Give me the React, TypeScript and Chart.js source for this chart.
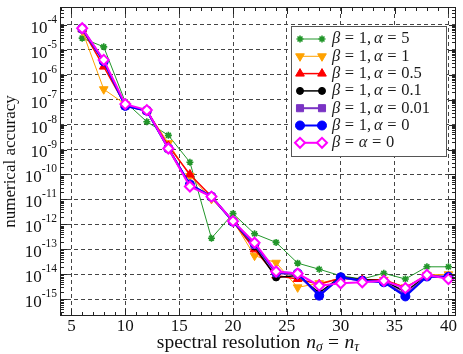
import React, { useEffect, useRef } from 'react';
import { Chart, registerables } from 'chart.js';
import { drawPoint } from 'chart.js/helpers';

Chart.register(...registerables);

// ---------- data ----------
const resolution = [6, 8, 10, 12, 14, 16, 18, 20, 22, 24, 26, 28, 30, 32, 34, 36, 38, 40];

const seriesLabels = [
  'β = 1, α = 5',
  'β = 1, α = 1',
  'β = 1, α = 0.5',
  'β = 1, α = 0.1',
  'β = 1, α = 0.01',
  'β = 1, α = 0',
  'β = α = 0',
];

const accAlpha5 = [2.9e-5, 1.3e-5, 8e-8, 1.3e-8, 3.7e-9, 3.1e-10, 2.8e-13, 2.7e-12, 4.2e-13, 1.9e-13, 2.8e-14, 1.6e-14, 8.7e-15, 6.5e-15, 1.1e-14, 6.5e-15, 2e-14, 2e-14];
const accAlpha1 = [5.8e-5, 2.6e-7, 6.5e-8, 3.6e-8, 1.8e-9, 8.7e-11, 1.05e-11, 1.4e-12, 5.6e-14, 2.9e-14, 3e-15, 4.4e-15, 7e-15, 6e-15, 6e-15, 3e-15, 9.5e-15, 1e-14];
const accAlpha05 = [6.5e-5, 2.1e-6, 6e-8, 3.6e-8, 1.4e-9, 1e-10, 1.3e-11, 1.3e-12, 1e-13, 9e-15, 6.5e-15, 4e-15, 7e-15, 6e-15, 6e-15, 3e-15, 9e-15, 8e-15];
const accAlpha01 = [7e-5, 3.3e-6, 5.8e-8, 3.6e-8, 1.1e-9, 3.8e-11, 1.3e-11, 1.3e-12, 1.3e-13, 7.5e-15, 9e-15, 1.8e-15, 8e-15, 6e-15, 5.5e-15, 2e-15, 9e-15, 7e-15];
const accAlpha001 = [7e-5, 3.5e-6, 5.6e-8, 3.6e-8, 1.1e-9, 3.8e-11, 1.3e-11, 1.3e-12, 1.5e-13, 1.1e-14, 1e-14, 1.4e-15, 7.5e-15, 5.5e-15, 5e-15, 1.5e-15, 8.5e-15, 7.5e-15];
const accAlpha0 = [7e-5, 3.4e-6, 5.6e-8, 3.6e-8, 1.1e-9, 4e-11, 1.3e-11, 1.3e-12, 1.7e-13, 1.2e-14, 1.1e-14, 1.4e-15, 7.6e-15, 5.5e-15, 4.8e-15, 1.3e-15, 8.2e-15, 8e-15];
const accBetaAlpha0 = [7.2e-5, 3.9e-6, 6.6e-8, 3.8e-8, 1.1e-9, 3.3e-11, 1.3e-11, 1.35e-12, 1.85e-13, 1.3e-14, 1.07e-14, 3.5e-15, 4.4e-15, 4.8e-15, 5.5e-15, 2.8e-15, 9.5e-15, 6.5e-15];

const seriesValues = [accAlpha5, accAlpha1, accAlpha05, accAlpha01, accAlpha001, accAlpha0, accBetaAlpha0];

const yDecades = [-15, -14, -13, -12, -11, -10, -9, -8, -7, -6, -5, -4];
const xTickValues = [5, 10, 15, 20, 25, 30, 35, 40];

const yTitle = 'numerical accuracy';
const xTitleText = 'spectral resolution';

// ---------- styles ----------
const SERIF = '"Liberation Serif", "DejaVu Serif", serif';

const seriesStyles = [
  { color: '#22962a', fill: '#5cc75c', point: 'star', rot: 0, r: 3.5, lw: 1, pbw: 1.6 },
  { color: '#ffa200', fill: '#ffa200', point: 'triangle', rot: 180, r: 5, lw: 1, pbw: 1 },
  { color: '#ff0000', fill: '#ff0000', point: 'triangle', rot: 0, r: 5, lw: 1.5, pbw: 1 },
  { color: '#000000', fill: '#000000', point: 'circle', rot: 0, r: 3.5, lw: 1.5, pbw: 1 },
  { color: '#7a33c4', fill: '#7a33c4', point: 'rect', rot: 0, r: 5, lw: 2, pbw: 1 },
  { color: '#0000ff', fill: '#0000ff', point: 'circle', rot: 0, r: 4.5, lw: 2, pbw: 1 },
  { color: '#ff00ff', fill: '#ffffff', point: 'rectRot', rot: 0, r: 5, lw: 2, pbw: 2 },
];

type Tok = { t: string; it?: boolean; pre?: number; post?: number; sub?: boolean };

function mathTokens(label: string): Tok[] {
  const toks: Tok[] = [];
  for (const ch of label) {
    if (ch === ' ') continue;
    if (ch === '=') toks.push({ t: '=', pre: 0.28, post: 0.28 });
    else if (ch === ',') toks.push({ t: ',', post: 0.17 });
    else toks.push({ t: ch, it: /[α-ω]/.test(ch) });
  }
  return toks;
}

function tokWidth(ctx: CanvasRenderingContext2D, toks: Tok[], size: number) {
  let w = 0;
  for (const tk of toks) {
    const s = tk.sub ? size * 0.7 : size;
    ctx.font = `${tk.it ? 'italic ' : ''}${s}px ${SERIF}`;
    w += (tk.pre || 0) * size + ctx.measureText(tk.t).width + (tk.post || 0) * size;
  }
  return w;
}

function drawTokens(ctx: CanvasRenderingContext2D, toks: Tok[], x: number, y: number, size: number) {
  let cx = x;
  for (const tk of toks) {
    const s = tk.sub ? size * 0.7 : size;
    cx += (tk.pre || 0) * size;
    ctx.font = `${tk.it ? 'italic ' : ''}${s}px ${SERIF}`;
    ctx.fillText(tk.t, cx, tk.sub ? y + size * 0.22 : y);
    cx += ctx.measureText(tk.t).width + (tk.post || 0) * size;
  }
  return cx;
}

const decorPlugin = {
  id: 'decor',
  afterDraw(chart: any) {
    const ctx: CanvasRenderingContext2D = chart.ctx;
    const a = chart.chartArea;
    const xs = chart.scales.x;
    const ys = chart.scales.y;
    ctx.save();
    ctx.setLineDash([]);
    ctx.strokeStyle = '#222';
    ctx.lineWidth = 1;
    const line = (x1: number, y1: number, x2: number, y2: number) => {
      ctx.beginPath();
      ctx.moveTo(x1, y1);
      ctx.lineTo(x2, y2);
      ctx.stroke();
    };
    // frame
    ctx.strokeRect(a.left + 0.5, a.top + 0.5, a.right - a.left - 1, a.bottom - a.top - 1);
    // x ticks (inward, bottom & top)
    for (let v = Math.ceil(xs.min); v <= xs.max; v++) {
      const px = Math.round(xs.getPixelForValue(v)) + 0.5;
      const len = v % 5 === 0 ? 7 : 4;
      line(px, a.bottom, px, a.bottom - len);
      line(px, a.top, px, a.top + len);
    }
    // y ticks (inward, left & right)
    for (let d = -16; d <= -3; d++) {
      for (let k = 1; k <= 9; k++) {
        const v = k * Math.pow(10, d);
        if (v < ys.min || v > ys.max) continue;
        const py = Math.round(ys.getPixelForValue(v)) + 0.5;
        const len = k === 1 ? 7 : 4;
        line(a.left, py, a.left + len, py);
        line(a.right, py, a.right - len, py);
      }
    }
    // y tick labels
    ctx.fillStyle = '#111';
    ctx.textBaseline = 'middle';
    ctx.textAlign = 'left';
    for (const d of yDecades) {
      const py = ys.getPixelForValue(Math.pow(10, d));
      const exp = '-' + String(-d);
      ctx.font = `11.5px ${SERIF}`;
      const we = ctx.measureText(exp).width;
      ctx.font = `17px ${SERIF}`;
      const wb = ctx.measureText('10').width;
      const right = 57;
      ctx.fillText('10', right - we - wb, py + 3.5);
      ctx.font = `11.5px ${SERIF}`;
      ctx.fillText(exp, right - we, py - 5);
    }
    // x tick labels
    ctx.textAlign = 'center';
    ctx.font = `17px ${SERIF}`;
    for (const v of xTickValues) {
      ctx.fillText(String(v), xs.getPixelForValue(v), 327);
    }
    // y title
    ctx.save();
    ctx.translate(11, (a.top + a.bottom) / 2);
    ctx.rotate(-Math.PI / 2);
    ctx.font = `17px ${SERIF}`;
    ctx.textAlign = 'center';
    ctx.fillText(yTitle, 0, 0);
    ctx.restore();
    // x title
    const xsize = 19.5;
    const xt: Tok[] = [
      { t: xTitleText, post: 0.3 },
      { t: 'n', it: true },
      { t: 'σ', it: true, sub: true },
      { t: '=', pre: 0.28, post: 0.28 },
      { t: 'n', it: true },
      { t: 'τ', it: true, sub: true },
    ];
    ctx.textAlign = 'left';
    const tw = tokWidth(ctx, xt, xsize);
    drawTokens(ctx, xt, (a.left + a.right) / 2 - tw / 2, 343, xsize);

    // legend
    const lx = 291.5, ly = 26.5, lw = 155, lh = 130;
    ctx.fillStyle = '#ffffff';
    ctx.fillRect(lx, ly, lw, lh);
    ctx.strokeStyle = '#555';
    ctx.lineWidth = 1;
    ctx.strokeRect(lx, ly, lw, lh);
    chart.data.datasets.forEach((ds: any, i: number) => {
      const st = seriesStyles[i];
      const y = 39 + i * 17.3;
      ctx.strokeStyle = st.color;
      ctx.lineWidth = st.lw;
      line(300, y, 322, y);
      ctx.fillStyle = st.fill;
      ctx.strokeStyle = st.color;
      ctx.lineWidth = st.pbw;
      const opts = { pointStyle: st.point, rotation: st.rot, radius: st.r, borderWidth: st.pbw };
      drawPoint(ctx, opts as any, 300, y);
      drawPoint(ctx, opts as any, 322, y);
      ctx.fillStyle = '#1a1a1a';
      ctx.textBaseline = 'middle';
      drawTokens(ctx, mathTokens(ds.label), 332, y, 16.5);
    });
    ctx.restore();
  },
};

export default function App() {
  const ref = useRef<HTMLCanvasElement | null>(null);
  useEffect(() => {
    if (!ref.current) return;
    const n = seriesValues.length;
    const chart = new Chart(ref.current, {
      type: 'line',
      data: {
        datasets: seriesValues.map((vals, i) => {
          const st = seriesStyles[i];
          return {
            label: seriesLabels[i],
            data: resolution.map((x, j) => ({ x, y: vals[j] })),
            borderColor: st.color,
            backgroundColor: st.fill,
            borderWidth: st.lw,
            pointStyle: st.point as any,
            pointRotation: st.rot,
            pointRadius: st.r,
            pointBorderWidth: st.pbw,
            pointBorderColor: st.color,
            pointBackgroundColor: st.fill,
            tension: 0,
            fill: false,
            order: n - 1 - i,
          };
        }),
      },
      options: {
        animation: false,
        responsive: false,
        devicePixelRatio: 1,
        layout: { padding: { top: 1, right: 5, left: 0, bottom: 0 } },
        plugins: { legend: { display: false }, tooltip: { enabled: false } },
        scales: {
          x: {
            type: 'linear',
            min: 3.94,
            max: 40.7,
            ticks: { display: false },
            grid: { color: '#444', lineWidth: 1, drawTicks: false },
            border: { display: false, dash: [4, 3] },
            afterBuildTicks: (s: any) => {
              s.ticks = xTickValues.map((v) => ({ value: v }));
            },
            afterFit: (s: any) => {
              s.height = 38;
            },
          },
          y: {
            type: 'logarithmic',
            min: Math.pow(10, -15.67),
            max: Math.pow(10, -3.29),
            ticks: { display: false },
            grid: { color: '#444', lineWidth: 1, drawTicks: false },
            border: { display: false, dash: [4, 3] },
            afterBuildTicks: (s: any) => {
              s.ticks = yDecades.map((d) => ({ value: Math.pow(10, d) }));
            },
            afterFit: (s: any) => {
              s.width = 60;
            },
          },
        },
      },
      plugins: [decorPlugin],
    });
    return () => chart.destroy();
  }, []);
  return (
    <div style={{ position: 'absolute', left: 0, top: 0, width: 463, height: 354, background: '#fff' }}>
      <canvas ref={ref} width={463} height={354} />
    </div>
  );
}
